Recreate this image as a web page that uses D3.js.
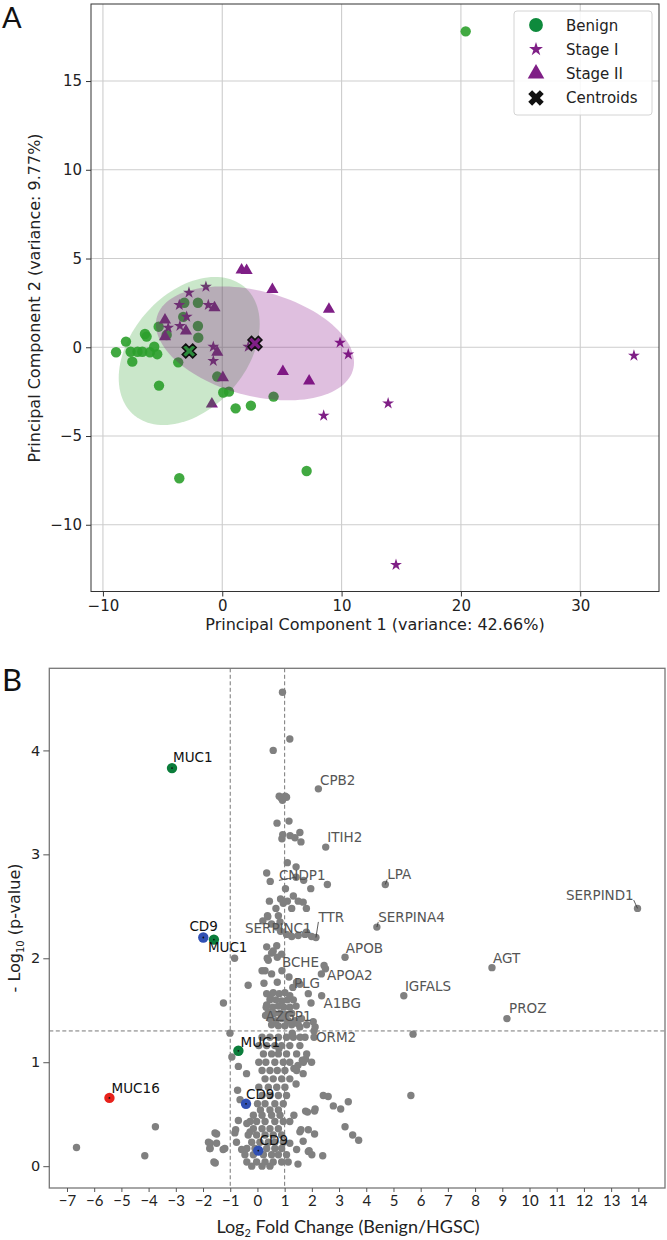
<!DOCTYPE html>
<html>
<head>
<meta charset="UTF-8" />
<title>PCA and volcano plot</title>
<script src="https://cdn.jsdelivr.net/npm/d3@7"></script>
<style>
  body { margin: 0; background: #fff; }
  svg { display: block; }
</style>
</head>
<body>
<script>
// ---------- panel A : PCA scores ----------
const benign = [
  [-8.9,-0.28],[-8.07,0.32],[-7.54,-0.81],[-7.68,-0.25],[-7.1,-0.25],[-6.7,-0.25],
  [-6.48,0.75],[-6.34,0.6],[-6.06,-0.28],[-5.7,0.03],[-5.45,-0.39],[-5.3,-2.16],
  [-5.33,1.16],[-4.66,0.69],[-3.69,-0.85],[-3.6,-7.38],[-3.18,2.51],[-3.27,1.71],
  [-2.04,2.51],[-2.04,1.2],[-2.01,0.54],[-0.42,-1.65],[0.08,-2.55],[0.56,-2.5],
  [1.12,-3.44],[2.4,-3.29],[4.3,-2.78],[7.07,-6.97],[20.4,17.8]
];
const stage1 = [
  [-1.37,3.41],[-2.79,3.08],[-3.6,2.38],[-1.17,2.38],[-2.98,1.72],[-3.55,1.2],
  [-4.53,1.1],[-0.75,0.03],[-0.75,-0.77],[2.18,0.03],[9.87,0.26],[10.56,-0.4],
  [8.5,-3.85],[13.9,-3.16],[14.56,-12.26],[34.5,-0.47]
];
const stage2 = [
  [-0.65,2.23],[-4.8,1.54],[-4.8,0.6],[-3.04,0.92],[-0.42,-0.28],[0.05,-1.71],
  [-0.87,-3.2],[1.62,4.35],[2.04,4.33],[4.2,3.25],[8.94,2.14],[5.08,-1.37],[7.28,-1.9]
];
const centroids = [[-2.77,-0.21],[2.74,0.22]];
// confidence ellipses: centre and covariance [sxx, sxy, syy]
const ellipseCentres = [[-2.77,-0.21],[2.74,0.22]];
const ellipseCov = [[34.9,9.0,17.4],[68.9,-8.9,10.3]];
const xTicksA = [-10,0,10,20,30];
const yTicksA = [-10,-5,0,5,10,15];
const legendLabels = ["Benign","Stage I","Stage II","Centroids"];

// ---------- panel B : volcano ----------
const greyPoints = [
  [0.92,4.56],[1.19,4.11],[0.58,4.0],
  [0.8,3.56],[0.88,3.54],[0.95,3.55],[1.02,3.56],[1.07,3.55],[0.92,3.52],
  [0.72,3.30],[1.16,3.32],
  [0.93,3.19],[0.9,3.15],[1.2,3.18],[1.38,3.16],[1.56,3.21],[1.6,3.12],
  [1.1,2.92],[1.42,2.88],[0.34,2.82],[0.47,2.74],[1.7,2.75],[1.96,2.67],[2.57,2.71],
  [1.03,2.67],[1.32,2.6],[0.85,2.57],[0.44,2.55],[0.68,2.48],[0.95,2.53],[1.1,2.55],
  [1.5,2.55],[1.68,2.54],[1.26,2.48],[1.8,2.48],
  [0.37,2.41],[0.2,2.36],[0.77,2.41],[0.83,2.35],[0.72,2.3],[0.85,2.26],[0.38,2.40],
  [0.52,2.33],[1.07,2.23],[1.26,2.21],[1.75,2.23],[1.99,2.21],[1.8,2.25],
  [0.34,2.11],[0.58,2.07],[0.71,2.12],[0.89,2.04],[-0.84,2.0],[0.36,2.0],[0.73,2.01],
  [0.52,2.05],[0.4,1.98],
  [0.28,1.88],[0.52,1.85],[0.73,1.77],[-0.34,1.74],[1.16,1.82],[1.44,1.77],[1.56,1.75],
  [1.87,1.66],[1.97,1.57],[-1.25,1.57],[0.17,1.88],[0.24,1.76],[2.45,1.93],[2.35,1.85],
  [0.34,1.66],[0.58,1.67],[0.8,1.66],[1.01,1.67],[1.19,1.64],
  [0.46,1.6],[0.68,1.6],[0.89,1.59],[1.1,1.6],[1.32,1.6],
  [0.34,1.55],[0.56,1.53],[0.77,1.54],[0.97,1.53],[1.19,1.53],[1.42,1.54],
  [0.4,1.48],[0.61,1.47],[0.83,1.47],[1.05,1.46],[1.26,1.47],
  [0.46,1.42],[0.68,1.4],[0.89,1.42],[1.13,1.4],[1.38,1.4],[1.62,1.42],
  [0.52,1.36],[0.77,1.35],[1.01,1.35],[1.26,1.36],[1.56,1.34],[1.81,1.36],[2.05,1.39],
  [0.32,1.53],[0.47,1.63],[1.49,1.37],[2.12,1.34],[2.08,1.24],[1.28,1.28],[1.57,1.24],
  [-1.01,1.28],
  [0.17,1.24],[0.46,1.24],[0.77,1.24],[1.07,1.24],[1.32,1.24],[1.75,1.24],
  [0.05,1.16],[0.34,1.16],[0.64,1.16],[0.89,1.16],[1.19,1.16],[1.56,1.16],
  [0.22,1.08],[0.52,1.08],[0.77,1.08],[1.07,1.08],[1.44,1.08],[1.81,1.08],
  [0.05,1.0],[0.31,1.0],[0.64,1.0],[0.95,1.0],[1.19,1.0],[1.69,1.0],[1.99,1.0],
  [-0.94,1.05],[-0.7,0.96],[-0.4,0.89],[-0.73,0.73],[0.79,1.13],
  [1.65,1.02],[1.68,0.89],[1.49,0.97],[1.77,1.03],[1.34,0.94],
  [0.17,0.92],[0.46,0.92],[0.73,0.92],[1.01,0.92],[1.44,0.92],
  [0.28,0.84],[0.58,0.84],[0.89,0.84],[1.19,0.84],[1.42,0.79],
  [0.05,0.76],[0.4,0.76],[0.71,0.76],[1.01,0.76],
  [0.17,0.68],[0.46,0.68],[0.77,0.68],[1.07,0.68],[2.42,0.68],[2.6,0.67],
  [0.0,0.6],[0.28,0.6],[0.64,0.6],[0.95,0.6],[2.79,0.58],
  [0.11,0.54],[0.46,0.54],[0.77,0.54],[1.77,0.53],[2.1,0.53],[1.84,0.52],[2.12,0.55],
  [3.06,0.55],[3.34,0.62],[1.34,0.49],
  [-0.7,0.44],[-0.8,0.35],[-0.64,0.64],
  [-1.56,0.32],[-1.74,0.22],[-1.5,0.22],[-1.74,0.17],[-1.26,0.16],[-0.83,0.32],
  [-0.77,0.23],[-0.58,0.16],[-0.39,0.41],[-0.27,0.33],
  [-0.15,0.49],[0.17,0.49],[0.52,0.49],[0.83,0.49],
  [-0.27,0.43],[-0.03,0.43],[0.28,0.43],[0.64,0.43],[0.95,0.43],[1.19,0.43],
  [-0.15,0.36],[0.17,0.36],[0.46,0.36],[0.77,0.36],
  [-0.34,0.3],[-0.03,0.3],[0.28,0.3],[0.58,0.3],[0.89,0.3],
  [-0.21,0.23],[0.09,0.23],[0.4,0.23],[0.64,0.23],[0.95,0.23],
  [-0.39,0.17],[-0.09,0.17],[0.34,0.17],[0.64,0.17],[0.89,0.17],
  [-0.46,0.11],[-0.15,0.11],[0.22,0.11],[0.52,0.11],[0.77,0.11],[1.07,0.11],
  [-0.39,0.04],[-0.03,0.04],[0.28,0.04],[0.58,0.04],[0.89,0.04],
  [-0.21,0.0],[0.17,0.0],[0.46,0.0],
  [1.19,0.22],[1.44,0.16],[1.56,0.33],[1.87,0.35],[1.13,0.04],[2.0,0.11],[1.87,0.14],
  [1.49,0.02],[1.9,0.15],[2.4,0.1],[1.68,0.24],[1.6,0.35],[2.1,0.31],
  [3.22,0.38],[3.5,0.30],[3.72,0.25],
  [-6.65,0.18],[-4.14,0.10],[-3.75,0.38],[-1.8,0.23],[-1.75,0.17],[-1.5,0.31],
  [-1.6,0.04],[-1.2,0.17],[-1.55,0.03],
  [5.64,0.68],[5.72,1.27]
];
const geneNames = ["CPB2","ITIH2","CNDP1","LPA","SERPIND1","TTR","SERPINA4","SERPINC1","APOB",
  "AGT","BCHE","APOA2","PLG","IGFALS","A1BG","PROZ","AZGP1","ORM2"];
const geneFC    = [2.24,2.51,1.42,4.70,13.97,2.15,4.39,1.5,3.22,8.62,0.9,2.5,1.3,5.38,2.36,9.17,0.3,2.08];
const geneLogP  = [3.63,3.07,2.78,2.71,2.48,2.2,2.30,2.22,2.01,1.91,1.88,1.9,1.72,1.64,1.64,1.42,1.45,1.3];
const geneLabelFC = [2.30,2.57,0.79,4.77,13.83,2.24,4.44,-0.46,3.25,8.66,0.90,2.56,1.34,5.42,2.43,9.25,0.31,2.15];
const geneLabelP  = [3.67,3.12,2.75,2.76,2.56,2.35,2.35,2.24,2.05,1.95,1.92,1.79,1.71,1.69,1.52,1.47,1.40,1.19];
const leaderGenes = ["TTR","SERPINA4","LPA","SERPIND1","CNDP1"];

const markerNames = ["MUC1","CD9","MUC1","MUC1","MUC16","CD9","CD9"];
const markerFC    = [-3.14,-1.99,-1.6,-0.7,-5.44,-0.42,0.03];
const markerLogP  = [3.83,2.2,2.18,1.11,0.657,0.6,0.15];
const markerLabelFC = [-3.10,-2.5,-1.82,-0.62,-5.36,-0.42,0.08];
const markerLabelP  = [3.89,2.26,2.06,1.15,0.70,0.65,0.20];
const xTicksB = d3.range(-7, 15);
const yTicksB = [0,1,2,3,4];
const fcCut = [-1, 1];
const pCut = -Math.log10(0.05);

const green = "#2ca02c", purple = "#7f1f86";
const markerColour = { MUC1: "#0b7d3b", CD9: "#3050b4", MUC16: "#e8221c" };
const fontA = "DejaVu Sans, sans-serif";
const fontB = "Lato, Open Sans, sans-serif";

const svg = d3.select("body").append("svg")
  .attr("width", 667).attr("height", 1240)
  .style("background", "#fff");

// ======== panel A ========
const xA = d3.scaleLinear().domain([-11.0, 36.6]).range([91, 659]);
const yA = d3.scaleLinear().domain([-13.76, 19.34]).range([591.5, 4]);
const gA = svg.append("g");

gA.selectAll(".gx").data(xTicksA).enter().append("line")
  .attr("x1", d => xA(d)).attr("x2", d => xA(d))
  .attr("y1", yA.range()[1]).attr("y2", yA.range()[0])
  .attr("stroke", "#cdcdcd").attr("stroke-width", 1.1);
gA.selectAll(".gy").data(yTicksA).enter().append("line")
  .attr("y1", d => yA(d)).attr("y2", d => yA(d))
  .attr("x1", xA.range()[0]).attr("x2", xA.range()[1])
  .attr("stroke", "#cdcdcd").attr("stroke-width", 1.1);

const star = d3.symbol().type(d3.symbolStar).size(44);
const tri = d3.symbol().type(d3.symbolTriangle).size(64);

gA.selectAll(".benign").data(benign).enter().append("circle")
  .attr("cx", d => xA(d[0])).attr("cy", d => yA(d[1])).attr("r", 5.2)
  .attr("fill", green).attr("fill-opacity", 0.9);
gA.selectAll(".s1").data(stage1).enter().append("path")
  .attr("d", star).attr("transform", d => `translate(${xA(d[0])},${yA(d[1])})`)
  .attr("fill", purple);
gA.selectAll(".s2").data(stage2).enter().append("path")
  .attr("d", tri).attr("transform", d => `translate(${xA(d[0])},${yA(d[1])})`)
  .attr("fill", purple);

function ellipsePoints(c, s) {
  const sx = Math.sqrt(s[0]);
  const k = s[1] / sx;
  const r = Math.sqrt(s[2] - k * k);
  return d3.range(0, 361, 3).map(a => {
    const t = a * Math.PI / 180;
    return [c[0] + sx * Math.cos(t), c[1] + k * Math.cos(t) + r * Math.sin(t)];
  });
}
const ellLine = d3.line().x(d => xA(d[0])).y(d => yA(d[1])).curve(d3.curveLinearClosed);
const ellColours = [green, "#800080"];
ellipseCentres.forEach((c, i) => {
  gA.append("path").attr("d", ellLine(ellipsePoints(c, ellipseCov[i])))
    .attr("fill", ellColours[i]).attr("fill-opacity", 0.25).attr("stroke", "none");
});

const cross = d3.symbol().type(d3.symbolCross).size(120);
gA.selectAll(".cent").data(centroids).enter().append("path")
  .attr("d", cross)
  .attr("transform", d => `translate(${xA(d[0])},${yA(d[1])}) rotate(45)`)
  .attr("fill", (d, i) => i === 0 ? "#2a8a3a" : purple)
  .attr("stroke", "#111").attr("stroke-width", 1.6);

gA.append("rect")
  .attr("x", xA.range()[0]).attr("y", yA.range()[1])
  .attr("width", xA.range()[1] - xA.range()[0]).attr("height", yA.range()[0] - yA.range()[1])
  .attr("fill", "none").attr("stroke", "#333").attr("stroke-width", 1);

const axA = gA.append("g").attr("transform", `translate(0,${yA.range()[0]})`)
  .call(d3.axisBottom(xA).tickValues(xTicksA).tickSize(5).tickPadding(4));
const ayA = gA.append("g").attr("transform", `translate(${xA.range()[0]},0)`)
  .call(d3.axisLeft(yA).tickValues(yTicksA).tickSize(5).tickPadding(4));
[axA, ayA].forEach(a => {
  a.select(".domain").remove();
  a.selectAll("line").attr("stroke", "#333");
  a.selectAll("text").attr("font-family", fontA).attr("font-size", 15).attr("fill", "#222");
});

gA.append("text").attr("x", 375).attr("y", 630).attr("text-anchor", "middle")
  .attr("font-family", fontA).attr("font-size", 16).attr("fill", "#222")
  .text("Principal Component 1 (variance: 42.66%)");
gA.append("text").attr("transform", "translate(40,298) rotate(-90)").attr("text-anchor", "middle")
  .attr("font-family", fontA).attr("font-size", 16).attr("fill", "#222")
  .text("Principal Component 2 (variance: 9.77%)");

// legend
const lg = gA.append("g").attr("transform", "translate(514,11)");
lg.append("rect").attr("width", 138).attr("height", 104).attr("rx", 3)
  .attr("fill", "#fff").attr("fill-opacity", 0.85).attr("stroke", "#d4d4d4");
const legendSym = [
  d3.symbol().type(d3.symbolCircle).size(150),
  d3.symbol().type(d3.symbolStar).size(60),
  d3.symbol().type(d3.symbolTriangle).size(120),
  d3.symbol().type(d3.symbolCross).size(150)
];
const legendFill = ["#0e8a3c", purple, purple, "#111"];
legendLabels.forEach((lab, i) => {
  const yy = 14 + i * 24.3;
  lg.append("path").attr("d", legendSym[i])
    .attr("transform", `translate(22,${yy})` + (i === 3 ? " rotate(45)" : ""))
    .attr("fill", legendFill[i]);
  lg.append("text").attr("x", 52).attr("y", yy + 5.5)
    .attr("font-family", fontA).attr("font-size", 15).attr("fill", "#222").text(lab);
});

svg.append("text").attr("x", 2).attr("y", 28).attr("font-family", fontB)
  .attr("font-size", 29).attr("fill", "#111").text("A");

// ======== panel B ========
const xB = d3.scaleLinear().domain([-7.65, 14.98]).range([49.3, 665]);
const yB = d3.scaleLinear().domain([-0.21, 4.79]).range([1188, 668.3]);
const gB = svg.append("g");

gB.selectAll(".vcut").data(fcCut).enter().append("line")
  .attr("x1", d => xB(d)).attr("x2", d => xB(d))
  .attr("y1", yB.range()[1]).attr("y2", yB.range()[0])
  .attr("stroke", "#777").attr("stroke-width", 1).attr("stroke-dasharray", "4,2.5");
gB.append("line")
  .attr("x1", xB.range()[0]).attr("x2", xB.range()[1])
  .attr("y1", yB(pCut)).attr("y2", yB(pCut))
  .attr("stroke", "#777").attr("stroke-width", 1).attr("stroke-dasharray", "4,2.5");

gB.selectAll(".gp").data(greyPoints).enter().append("circle")
  .attr("cx", d => xB(d[0])).attr("cy", d => yB(d[1])).attr("r", 3.7)
  .attr("fill", "#808080");
gB.selectAll(".gene").data(geneNames).enter().append("circle")
  .attr("cx", (d, i) => xB(geneFC[i])).attr("cy", (d, i) => yB(geneLogP[i])).attr("r", 3.7)
  .attr("fill", "#808080");

// leader lines
geneNames.forEach((g, i) => {
  if (!leaderGenes.includes(g)) return;
  gB.append("line")
    .attr("x1", xB(geneLabelFC[i])).attr("y1", yB(geneLabelP[i]))
    .attr("x2", xB(geneFC[i])).attr("y2", yB(geneLogP[i]))
    .attr("stroke", "#333").attr("stroke-width", 0.8);
});

gB.selectAll(".gl").data(geneNames).enter().append("text")
  .attr("x", (d, i) => xB(geneLabelFC[i])).attr("y", (d, i) => yB(geneLabelP[i]))
  .attr("text-anchor", d => d === "SERPIND1" ? "end" : "start")
  .attr("font-family", fontA).attr("font-size", 13.5).attr("fill", "#555")
  .text(d => d);

gB.selectAll(".mk").data(markerNames).enter().append("circle")
  .attr("cx", (d, i) => xB(markerFC[i])).attr("cy", (d, i) => yB(markerLogP[i])).attr("r", 5.2)
  .attr("fill", d => markerColour[d]);
gB.selectAll(".mkc").data(markerNames).enter().append("circle")
  .attr("cx", (d, i) => xB(markerFC[i])).attr("cy", (d, i) => yB(markerLogP[i])).attr("r", 0.9)
  .attr("fill", "#111");
gB.selectAll(".ml").data(markerNames).enter().append("text")
  .attr("x", (d, i) => xB(markerLabelFC[i])).attr("y", (d, i) => yB(markerLabelP[i]))
  .attr("font-family", fontA).attr("font-size", 13.5).attr("fill", "#111")
  .text(d => d);

gB.append("rect")
  .attr("x", xB.range()[0]).attr("y", yB.range()[1])
  .attr("width", xB.range()[1] - xB.range()[0]).attr("height", yB.range()[0] - yB.range()[1])
  .attr("fill", "none").attr("stroke", "#777").attr("stroke-width", 1.3);

const axB = gB.append("g").attr("transform", `translate(0,${yB.range()[0]})`)
  .call(d3.axisBottom(xB).tickValues(xTicksB).tickSize(4).tickPadding(3));
const ayB = gB.append("g").attr("transform", `translate(${xB.range()[0]},0)`)
  .call(d3.axisLeft(yB).tickValues(yTicksB).tickFormat(d3.format("d")).tickSize(6).tickPadding(3));
[axB, ayB].forEach(a => {
  a.select(".domain").remove();
  a.selectAll("line").attr("stroke", "#555");
  a.selectAll("text").attr("fill", "#222");
});
axB.selectAll("text").attr("font-family", fontB).attr("font-size", 15);
ayB.selectAll("text").attr("font-family", fontA).attr("font-size", 14.5);

const xt = gB.append("text").attr("x", 348).attr("y", 1233).attr("text-anchor", "middle")
  .attr("font-family", fontB).attr("font-size", 18).attr("fill", "#222");
xt.append("tspan").text("Log");
xt.append("tspan").attr("font-size", 11).attr("dy", 4).text("2");
xt.append("tspan").attr("dy", -4).text(" Fold Change (Benign/HGSC)");

const yt = gB.append("text").attr("transform", "translate(20,928) rotate(-90)")
  .attr("text-anchor", "middle").attr("font-family", fontA).attr("font-size", 16).attr("fill", "#222");
yt.append("tspan").text("- Log");
yt.append("tspan").attr("font-size", 10).attr("dy", 4).text("10");
yt.append("tspan").attr("dy", -4).text(" (p-value)");

svg.append("text").attr("x", 2).attr("y", 691).attr("font-family", fontB)
  .attr("font-size", 31).attr("fill", "#111").text("B");
</script>
</body>
</html>
